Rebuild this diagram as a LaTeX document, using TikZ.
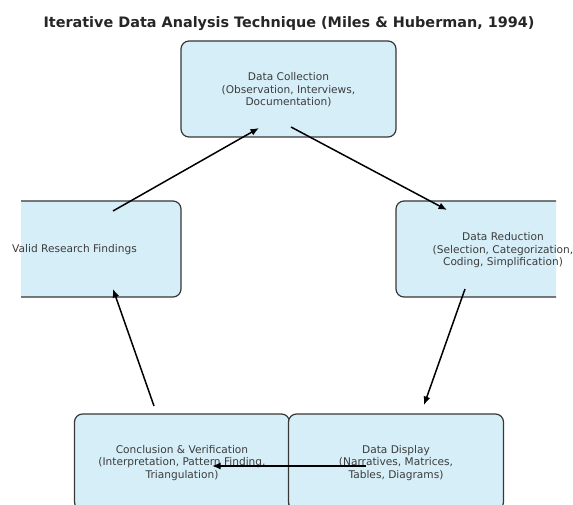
\documentclass[tikz,border=0pt]{standalone}
\usepackage{fontspec}
\setmainfont{DejaVu Sans}
\usetikzlibrary{arrows.meta}
\definecolor{boxfill}{RGB}{214,238,248}
\definecolor{boxline}{RGB}{55,55,55}
\definecolor{txtc}{RGB}{60,60,60}
\definecolor{titlec}{RGB}{38,38,38}
\tikzset{
  stagebox/.style={draw=boxline, line width=1.2pt, fill=boxfill, rounded corners=8pt,
    minimum width=215pt, minimum height=96pt, inner sep=0pt, outer sep=0pt},
  lbl/.style={text=txtc, align=center, inner sep=0pt, font=\fontsize{10.6}{12.5}\selectfont},
  flow/.style={draw=black, line width=1.5pt, -{Latex[length=8.5pt,width=7pt]}}
}
\begin{document}
\begin{tikzpicture}[x=1pt,y=-1pt]
\useasboundingbox (0,0) rectangle (573,505);
\node[text=titlec, font=\fontsize{14.4}{17}\selectfont\bfseries, inner sep=0pt] (title) at (289,23.5)
  {Iterative Data Analysis Technique (Miles \& Huberman, 1994)};
\begin{scope}
  \clip (21,0) rectangle (556,505);
  \node[stagebox] (coll) at (288.5,89) {};
  \node[stagebox] (red) at (503.5,249) {};
  \node[stagebox] (valid) at (73.5,249) {};
  \node[stagebox] (concl) at (182,462) {};
  \node[stagebox] (disp) at (396,462) {};
\end{scope}
\node[lbl] (collT) at (288.5,90) {Data Collection\\(Observation, Interviews,\\Documentation)};
\node[lbl] (redT) at (503,250.5) {Data Reduction\\(Selection, Categorization,\\Coding, Simplification)};
\node[lbl] (validT) at (74.5,249.5) {Valid Research Findings};
\node[lbl] (conclT) at (182,463) {Conclusion \& Verification\\(Interpretation, Pattern Finding,\\Triangulation)};
\node[lbl] (dispT) at (396,463) {Data Display\\(Narratives, Matrices,\\Tables, Diagrams)};
\coordinate (a1s) at (291,127); \coordinate (a1e) at (447,210);
\coordinate (a2s) at (465,289); \coordinate (a2e) at (424,405);
\coordinate (a3s) at (366,466); \coordinate (a3e) at (212,466);
\coordinate (a4s) at (154,406); \coordinate (a4e) at (113,289);
\coordinate (a5s) at (113,211); \coordinate (a5e) at (259,128);
\draw[flow] (a1s) -- (a1e);
\draw[flow] (a2s) -- (a2e);
\draw[flow] (a3s) -- (a3e);
\draw[flow] (a4s) -- (a4e);
\draw[flow] (a5s) -- (a5e);
\end{tikzpicture}
\end{document}
